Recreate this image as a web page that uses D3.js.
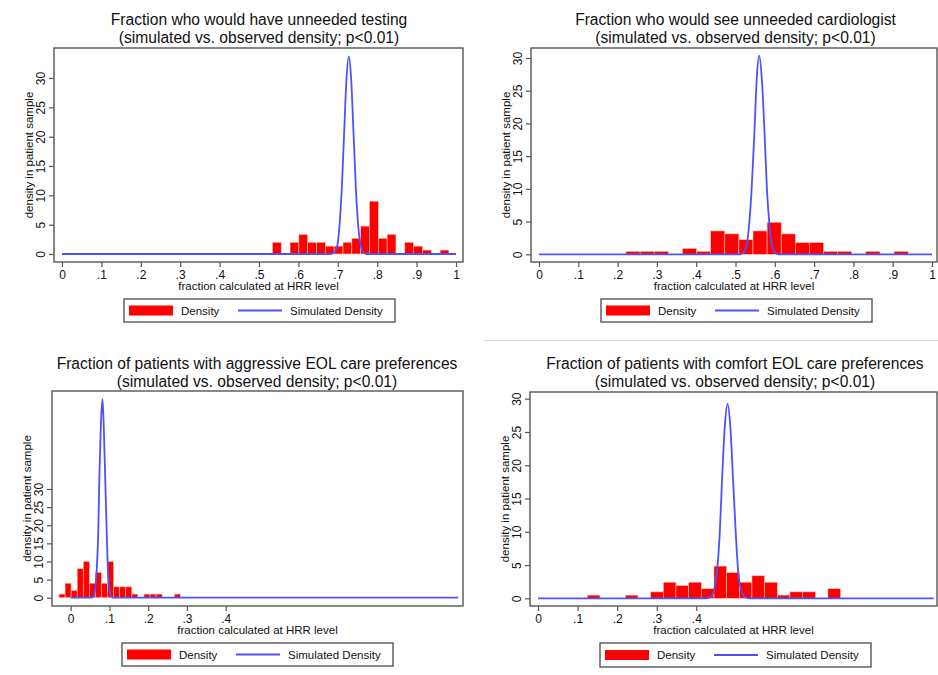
<!DOCTYPE html>
<html>
<head>
<meta charset="utf-8">
<script src="https://cdn.jsdelivr.net/npm/d3@7"></script>
<style>
  html, body { margin: 0; padding: 0; background: #fff; }
  svg { display: block; }
  text { font-family: "Liberation Sans", Arial, Helvetica, sans-serif; fill: #111; }
</style>
</head>
<body>
<svg id="chart" width="938" height="675"></svg>
<script>
// ---------------- DATA ----------------
const panelTitles = [
  "Fraction who would have unneeded testing",
  "Fraction who would see unneeded cardiologist",
  "Fraction of patients with aggressive EOL care preferences",
  "Fraction of patients with comfort EOL care preferences"
];
const subtitle = "(simulated vs. observed density; p<0.01)";
const xAxisTitle = "fraction calculated at HRR level";
const yAxisTitle = "density in patient sample";
const legendLabels = ["Density", "Simulated Density"];

const xTicksFull = [0, 0.1, 0.2, 0.3, 0.4, 0.5, 0.6, 0.7, 0.8, 0.9, 1];
const xTicksShort = [0, 0.1, 0.2, 0.3, 0.4];
const yTicks = [0, 5, 10, 15, 20, 25, 30];

// histogram bins: first bin start, bin width, bar heights (density)
const bins1Start = 0.534, bins1Width = 0.0224;
const bins1 = [2.0, 0, 2.0, 3.35, 2.0, 2.0, 1.34, 1.34, 2.0, 2.68, 4.75, 9.0, 2.68, 3.35, 0, 2.0, 1.34, 0.67, 0, 0.67];

const bins2Start = 0.2214, bins2Width = 0.0359;
const bins2 = [0.45, 0.45, 0.45, 0, 0.9, 0.45, 3.57, 3.12, 2.23, 3.57, 4.9, 3.12, 1.78, 1.78, 0.45, 0.45, 0, 0.45, 0, 0.45];

const bins3Start = -0.0302, bins3Width = 0.01566;
const bins3 = [1, 4, 2, 8, 10, 4, 7, 4, 10, 3, 3, 3, 1, 0, 1, 1, 1, 0, 0, 1];

const bins4Start = 0.1246, bins4Width = 0.032;
const bins4 = [0.48, 0, 0, 0.48, 0, 0.97, 2.42, 1.93, 2.42, 1.45, 4.84, 3.87, 2.42, 3.39, 2.42, 0.48, 0.97, 0.97, 0, 1.45];

// simulated density curves: x values and density values
const sim1X = [0, 0.681, 0.687, 0.693, 0.699, 0.704, 0.710, 0.716, 0.722, 0.728, 0.734, 0.740, 0.746, 0.752, 0.758, 0.763, 0.769, 0.775, 1];
const sim1Y = [0, 0, 0.1, 0.4, 1.5, 4.6, 11.0, 20.5, 29.7, 33.7, 29.7, 20.5, 11.0, 4.6, 1.5, 0.4, 0.1, 0, 0];

const sim2X = [0, 0.508, 0.515, 0.521, 0.528, 0.534, 0.541, 0.548, 0.554, 0.560, 0.567, 0.574, 0.580, 0.587, 0.593, 0.600, 0.606, 0.613, 1];
const sim2Y = [0, 0, 0.07, 0.33, 1.3, 4.1, 9.9, 18.5, 26.8, 30.4, 26.8, 18.5, 9.9, 4.1, 1.3, 0.33, 0.07, 0, 0];

const sim3X = [0, 0.053, 0.056, 0.060, 0.063, 0.067, 0.071, 0.074, 0.078, 0.082, 0.085, 0.089, 0.093, 0.096, 0.100, 0.103, 0.107, 0.111, 1];
const sim3Y = [0, 0, 0.12, 0.6, 2.4, 7.4, 17.8, 33.3, 48.3, 54.8, 48.3, 33.3, 17.8, 7.4, 2.4, 0.6, 0.12, 0, 0];

const sim4X = [0, 0.424, 0.431, 0.438, 0.445, 0.452, 0.459, 0.465, 0.472, 0.479, 0.486, 0.493, 0.500, 0.506, 0.513, 0.520, 0.527, 0.534, 1];
const sim4Y = [0, 0, 0.06, 0.32, 1.3, 3.9, 9.5, 17.7, 25.8, 29.2, 25.8, 17.7, 9.5, 3.9, 1.3, 0.32, 0.06, 0, 0];

// ---------------- LAYOUT ----------------
const panels = [
  { title: panelTitles[0], bins: bins1, binStart: bins1Start, binWidth: bins1Width, simX: sim1X, simY: sim1Y, xTicks: xTicksFull,
    frame: {l: 54, t: 48, r: 463, b: 262}, xr: [62, 456], xd: [0, 1], yr: [254, 78],
    titleX: 259, titleY: 25, legend: {x: 124, y: 299, w: 271, h: 23} },
  { title: panelTitles[1], bins: bins2, binStart: bins2Start, binWidth: bins2Width, simX: sim2X, simY: sim2Y, xTicks: xTicksFull,
    frame: {l: 531, t: 48, r: 937, b: 262}, xr: [539, 932], xd: [0, 1], yr: [254.3, 58],
    titleX: 735.5, titleY: 25, legend: {x: 601, y: 299, w: 271, h: 23} },
  { title: panelTitles[2], bins: bins3, binStart: bins3Start, binWidth: bins3Width, simX: sim3X, simY: sim3Y, xTicks: xTicksShort,
    frame: {l: 52, t: 391, r: 463, b: 606}, xr: [70.7, 225.7], xd: [0, 0.4], yr: [597.7, 489],
    titleX: 257, titleY: 369, legend: {x: 122, y: 643, w: 271, h: 23} },
  { title: panelTitles[3], bins: bins4, binStart: bins4Start, binWidth: bins4Width, simX: sim4X, simY: sim4Y, xTicks: xTicksShort,
    frame: {l: 530, t: 392, r: 937, b: 606}, xr: [538, 696.3], xd: [0, 0.4], yr: [598.3, 398.7],
    titleX: 735, titleY: 369, legend: {x: 600, y: 643, w: 271, h: 24} }
];

const RED = "#ff0000";
const BLUE = "#5050ff";
const FRAME = "#555";

const svg = d3.select("#chart");

// separator line on the right half
svg.append("line").attr("x1", 484).attr("x2", 938).attr("y1", 340.5).attr("y2", 340.5)
  .attr("stroke", "#d8d8d8").attr("stroke-width", 1);

const fmtTick = d => d === 0 ? "0" : (d === 1 ? "1" : d3.format(".1f")(d).replace(/^0/, ""));

panels.forEach(p => {
  const g = svg.append("g");
  const x = d3.scaleLinear().domain(p.xd).range(p.xr);
  const y = d3.scaleLinear().domain([0, 30]).range(p.yr);
  const f = p.frame;

  // two-line title
  g.append("text").attr("x", p.titleX).attr("y", p.titleY).attr("text-anchor", "middle")
    .style("font-size", "15.6px").text(p.title);
  g.append("text").attr("x", p.titleX).attr("y", p.titleY + 18).attr("text-anchor", "middle")
    .style("font-size", "15.6px").text(subtitle);

  // bars
  g.append("g").selectAll("rect")
    .data(p.bins.map((h, i) => ({h, x0: p.binStart + i * p.binWidth})).filter(d => d.h > 0))
    .join("rect")
    .attr("x", d => x(d.x0))
    .attr("width", d => x(d.x0 + p.binWidth) - x(d.x0))
    .attr("y", d => y(d.h))
    .attr("height", d => y(0) - y(d.h))
    .attr("fill", RED)
    .attr("stroke", "#f6c8b4")
    .attr("stroke-width", 0.6);

  // simulated density curve
  const pts = p.simX.map((v, i) => [v, p.simY[i]]);
  g.append("path")
    .attr("d", d3.line().x(d => x(d[0])).y(d => y(d[1])).curve(d3.curveMonotoneX)(pts))
    .attr("fill", "none").attr("stroke", BLUE).attr("stroke-width", 1.8).attr("stroke-linejoin", "round");

  // frame
  g.append("rect").attr("x", f.l).attr("y", f.t).attr("width", f.r - f.l).attr("height", f.b - f.t)
    .attr("fill", "none").attr("stroke", FRAME).attr("stroke-width", 1.4);

  // x axis
  const xa = g.append("g").attr("transform", `translate(0,${f.b})`)
    .call(d3.axisBottom(x).tickValues(p.xTicks).tickSize(5).tickPadding(3).tickFormat(fmtTick));
  xa.select(".domain").remove();
  xa.selectAll("line").attr("stroke", FRAME).attr("stroke-width", 1.2);
  xa.selectAll("text").style("font-size", "12px").attr("fill", "#111")
    .attr("font-family", "Liberation Sans, Arial, sans-serif").attr("y", 8).attr("dy", "0.71em");

  // y axis
  const ya = g.append("g").attr("transform", `translate(${f.l},0)`)
    .call(d3.axisLeft(y).tickValues(yTicks).tickSize(5));
  ya.select(".domain").remove();
  ya.selectAll("line").attr("stroke", FRAME).attr("stroke-width", 1.2);
  ya.selectAll("text").style("font-size", "12px").attr("fill", "#111")
    .attr("font-family", "Liberation Sans, Arial, sans-serif")
    .attr("transform", "rotate(-90)").attr("x", 0).attr("y", -9).attr("dy", 0)
    .attr("text-anchor", "middle");

  // axis titles
  g.append("text").attr("x", (f.l + f.r) / 2).attr("y", f.b + 28)
    .attr("text-anchor", "middle").style("font-size", "11.5px").text(xAxisTitle);
  g.append("text").attr("transform", `translate(${f.l - 21},${(f.t + f.b) / 2}) rotate(-90)`)
    .attr("text-anchor", "middle").style("font-size", "11.5px").text(yAxisTitle);

  // legend
  const L = p.legend;
  const lg = g.append("g").attr("transform", `translate(${L.x},${L.y})`);
  lg.append("rect").attr("width", L.w).attr("height", L.h).attr("fill", "#fff")
    .attr("stroke", FRAME).attr("stroke-width", 1.4);
  lg.append("rect").attr("x", 5).attr("y", L.h / 2 - 5).attr("width", 44).attr("height", 10).attr("fill", RED);
  lg.append("text").attr("x", 57).attr("y", L.h / 2 + 4).style("font-size", "11.5px").text(legendLabels[0]);
  lg.append("line").attr("x1", 114).attr("x2", 158).attr("y1", L.h / 2).attr("y2", L.h / 2)
    .attr("stroke", BLUE).attr("stroke-width", 1.8);
  lg.append("text").attr("x", 166).attr("y", L.h / 2 + 4).style("font-size", "11.5px").text(legendLabels[1]);
});
</script>
</body>
</html>
